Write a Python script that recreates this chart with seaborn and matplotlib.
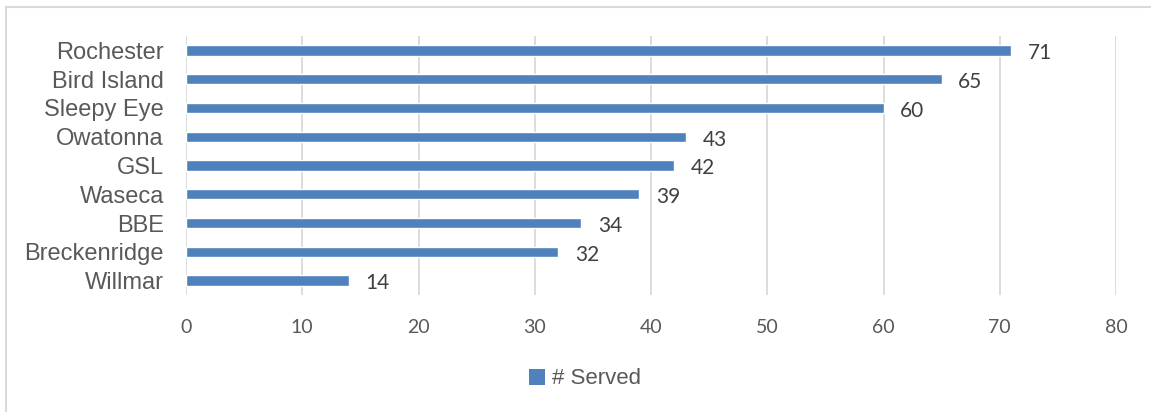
import pandas as pd
import matplotlib.pyplot as plt
import seaborn as sns
from matplotlib.lines import Line2D
from matplotlib.patches import Patch

# Data
sites = ['Rochester', 'Bird Island', 'Sleepy Eye', 'Owatonna', 'GSL',
         'Waseca', 'BBE', 'Breckenridge', 'Willmar']
served = [71, 65, 60, 43, 42, 39, 34, 32, 14]
x_ticks = [0, 10, 20, 30, 40, 50, 60, 70, 80]

df = pd.DataFrame({'site': sites, 'served': served})

bar_color = '#4f81bd'
grey = '#595959'

sns.set_style("white")
fig = plt.figure(figsize=(11.51, 4.12), dpi=100)
ax = fig.add_axes([186 / 1151, 1 - 295 / 412, 930 / 1151, 259 / 412])

sns.barplot(data=df, x='served', y='site', orient='h', color=bar_color,
            width=0.36, saturation=1, ax=ax, zorder=3)

ax.set_xlim(0, 80)
ax.set_ylim(len(sites) - 0.5, -0.5)
ax.set_xticks(x_ticks)
ax.xaxis.grid(True, color='#d9d9d9', linewidth=1.3, zorder=0)
ax.yaxis.grid(False)
for s in ax.spines.values():
    s.set_visible(False)
ax.tick_params(axis='both', length=0)
ax.tick_params(axis='x', pad=17, labelcolor=grey, labelsize=14)
ax.tick_params(axis='y', pad=16, labelcolor=grey, labelsize=17)
for lab in ax.get_xticklabels():
    lab.set_family('Lato')
for lab in ax.get_yticklabels():
    lab.set_family('Liberation Sans')
ax.set_xlabel('')
ax.set_ylabel('')

# value labels
for i, v in enumerate(served):
    ax.annotate(str(v), (v, i), xytext=(12, -2), textcoords='offset points',
                ha='left', va='center', fontsize=15, color='#404040',
                family='Lato')

# legend
handle = Patch(facecolor=bar_color, edgecolor='none')
fig.legend([handle], ['# Served'], loc='center', bbox_to_anchor=(585 / 1151, 1 - 379 / 412),
           frameon=False, handlelength=0.7, handleheight=0.7, handletextpad=0.3,
           prop={'family': 'Liberation Sans', 'size': 16}, labelcolor=grey)

# chart border (top and left edges visible in the crop)
fig.add_artist(Line2D([6 / 1151, 1], [1 - 7 / 412, 1 - 7 / 412], color='#d9d9d9', linewidth=1.5))
fig.add_artist(Line2D([6 / 1151, 6 / 1151], [0, 1 - 7 / 412], color='#d9d9d9', linewidth=1.5))

fig.savefig('out.png', dpi=100)
